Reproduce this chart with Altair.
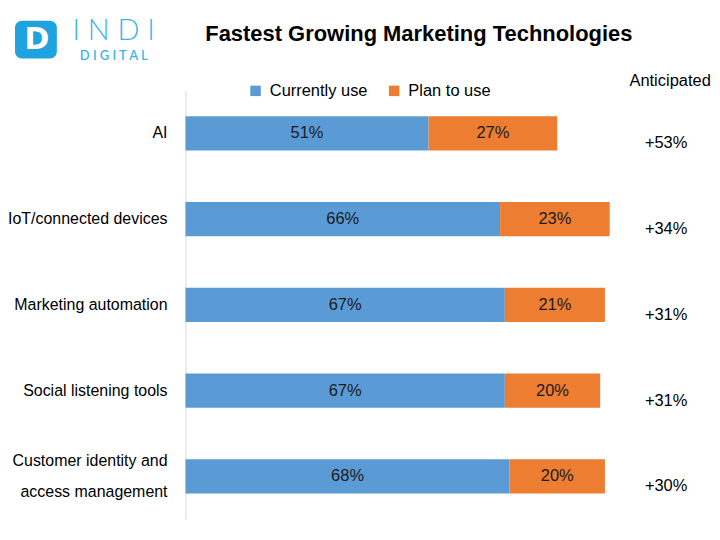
import altair as alt
import pandas as pd

categories = ["AI", "IoT/connected devices", "Marketing automation",
              "Social listening tools", "Customer identity and\naccess management"]
current_use = [51, 66, 67, 67, 68]
plan_to_use = [27, 23, 21, 20, 20]
anticipated = ["+53%", "+34%", "+31%", "+31%", "+30%"]
series = ["Currently use", "Plan to use"]
colors = ["#5B9BD5", "#ED7D31"]

FONT = "Liberation Sans, Arial, sans-serif"
FS = 16.5

rows = []
for i, c in enumerate(categories):
    rows.append({"category": c, "series": series[0], "value": current_use[i], "order": 0})
    rows.append({"category": c, "series": series[1], "value": plan_to_use[i], "order": 1})
df = pd.DataFrame(rows)
df_cat = pd.DataFrame({"category": categories, "anticipated": anticipated})

yenc = alt.Y("category:N", sort=categories,
             scale=alt.Scale(paddingInner=0.6, paddingOuter=0.3),
             axis=alt.Axis(labels=False, ticks=False, title=None, domainColor="#d9d9d9",
                           domainWidth=1, grid=False))
xscale = alt.Scale(domain=[0, 100])

bars = alt.Chart(df).mark_bar().encode(
    x=alt.X("value:Q", stack="zero", scale=xscale, axis=None),
    y=yenc,
    color=alt.Color("series:N", sort=series,
                    scale=alt.Scale(domain=series, range=colors),
                    legend=alt.Legend(orient="none", legendX=62, legendY=-8, direction="horizontal",
                                      title=None, symbolType="square", symbolSize=110,
                                      symbolStrokeWidth=0, labelFont=FONT, labelFontSize=FS,
                                      labelColor="#000", columnPadding=18, labelOffset=6)),
    order=alt.Order("order:Q"),
)

seg_labels = alt.Chart(df).transform_stack(
    stack="value", groupby=["category"], as_=["v0", "v1"],
    sort=[alt.SortField("order", order="ascending")]
).transform_calculate(
    mid="(datum.v0 + datum.v1) / 2",
    lbl="datum.value + '%'"
).mark_text(font=FONT, fontSize=FS, color="#1a1a1a").encode(
    x=alt.X("mid:Q", scale=xscale, axis=None),
    y=alt.Y("category:N", sort=categories),
    text="lbl:N",
)

cat_single = alt.Chart(df_cat).transform_filter(
    "indexof(datum.category, '\\n') < 0"
).mark_text(
    font=FONT, fontSize=16, align="right", baseline="middle", color="#000"
).encode(
    x=alt.value(-18),
    y=alt.Y("category:N", sort=categories),
    text="category:N",
)

cat_multi = alt.Chart(df_cat).transform_filter(
    "indexof(datum.category, '\\n') >= 0"
).mark_text(
    font=FONT, fontSize=16, align="right", baseline="middle", lineBreak="\n",
    lineHeight=31, dy=-15, color="#000"
).encode(
    x=alt.value(-18),
    y=alt.Y("category:N", sort=categories),
    text="category:N",
)

antic = alt.Chart(df_cat).mark_text(
    font=FONT, fontSize=FS, align="center", baseline="middle", dy=10, color="#000"
).encode(
    x=alt.value(482),
    y=alt.Y("category:N", sort=categories),
    text="anticipated:N",
)

deco = pd.DataFrame({"t": ["x"]})
antic_head = alt.Chart(deco).mark_text(
    font=FONT, fontSize=FS, align="center", baseline="middle", color="#000"
).encode(x=alt.value(486), y=alt.value(-10), text=alt.value("Anticipated"))

title = alt.Chart(deco).mark_text(
    font=FONT, fontSize=22, fontWeight="bold", align="center", baseline="middle", color="#000"
).encode(x=alt.value(234), y=alt.value(-57), text=alt.value("Fastest Growing Marketing Technologies"))

logo_box = alt.Chart(deco).mark_rect(cornerRadius=7, color="#1FA3E0").encode(
    x=alt.value(-171), x2=alt.value(-129), y=alt.value(-70), y2=alt.value(-32))
logo_d = alt.Chart(deco).mark_text(
    font="DejaVu Sans", fontSize=30, fontWeight="bold", color="white", align="center", baseline="middle"
).encode(x=alt.value(-149), y=alt.value(-51), text=alt.value("D"))
logo_indi = alt.Chart(deco).mark_text(
    font="Lato", fontSize=29, fontWeight=300, color="#3DB5EA", align="center",
    baseline="alphabetic"
).encode(x=alt.value(-72), y=alt.value(-51), text=alt.value("I N D I"))
logo_dig = alt.Chart(deco).mark_text(
    font="Lato", fontSize=13, fontWeight=600, color="#3DB5EA", align="center", baseline="alphabetic"
).encode(x=alt.value(-72), y=alt.value(-31), text=alt.value("D I G I T A L"))

chart = alt.layer(
    bars, seg_labels, cat_single, cat_multi, antic, antic_head, title,
    logo_box, logo_d, logo_indi, logo_dig
).properties(
    width=478, height=430,
    autosize=alt.AutoSizeParams(type="none"),
    padding={"left": 178, "top": 82, "right": 50, "bottom": 8},
).configure_view(stroke=None)

chart.save("out.html", embed_options={"renderer": "svg", "actions": False})
